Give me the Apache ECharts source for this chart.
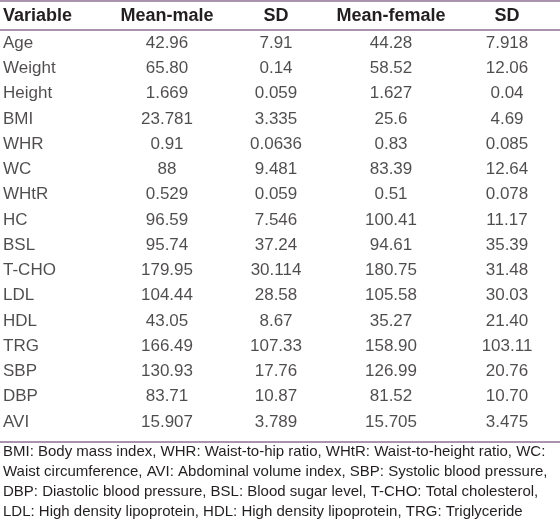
<!DOCTYPE html>
<html><head><meta charset="utf-8">
<script src="https://cdn.jsdelivr.net/npm/echarts@6/dist/echarts.min.js"></script>
<style>html,body{margin:0;padding:0;background:#fff}#c{width:560px;height:525px}</style>
</head><body><div id="c"></div>
<script>
// ---- data ----
const headers = ['Variable', 'Mean-male', 'SD', 'Mean-female', 'SD'];
const variables = ['Age','Weight','Height','BMI','WHR','WC','WHtR','HC','BSL','T-CHO','LDL','HDL','TRG','SBP','DBP','AVI'];
const meanMale   = ['42.96','65.80','1.669','23.781','0.91','88','0.529','96.59','95.74','179.95','104.44','43.05','166.49','130.93','83.71','15.907'];
const sdMale     = ['7.91','0.14','0.059','3.335','0.0636','9.481','0.059','7.546','37.24','30.114','28.58','8.67','107.33','17.76','10.87','3.789'];
const meanFemale = ['44.28','58.52','1.627','25.6','0.83','83.39','0.51','100.41','94.61','180.75','105.58','35.27','158.90','126.99','81.52','15.705'];
const sdFemale   = ['7.918','12.06','0.04','4.69','0.085','12.64','0.078','11.17','35.39','31.48','30.03','21.40','103.11','20.76','10.70','3.475'];
const footnoteLines = [
  'BMI: Body mass index, WHR: Waist-to-hip ratio, WHtR: Waist-to-height ratio, WC:',
  'Waist circumference, AVI: Abdominal volume index, SBP: Systolic blood pressure,',
  'DBP: Diastolic blood pressure, BSL: Blood sugar level, T-CHO: Total cholesterol,',
  'LDL: High density lipoprotein, HDL: High density lipoprotein, TRG: Triglyceride'
];

// ---- layout ----
const colX = [3, 167, 276, 391, 507];
const colAlign = ['left', 'center', 'center', 'center', 'center'];
const textColor = '#231f20';
const ruleColor = '#8e6f94';
const fontFam = '"Liberation Sans", Arial, sans-serif';

const columns = [variables, meanMale, sdMale, meanFemale, sdFemale];

const series = columns.map((col, c) => ({
  type: 'scatter',
  symbolSize: 1,
  itemStyle: { color: 'rgba(0,0,0,0)' },
  encode: { x: 0, y: 1 },
  data: col.map((txt, i) => [colX[c], variables[i], txt]),
  label: {
    show: true,
    position: 'inside',
    align: colAlign[c],
    verticalAlign: 'middle',
    formatter: p => p.value[2],
    color: textColor,
    fontFamily: fontFam,
    fontSize: 17
  },
  labelLayout: { hideOverlap: false },
  emphasis: { disabled: true },
  silent: true
}));

const graphic = [];
[1, 30, 442].forEach(y => graphic.push({
  type: 'line', shape: { x1: 0, y1: y, x2: 560, y2: y },
  style: { stroke: ruleColor, lineWidth: 1.3 }, silent: true
}));
headers.forEach((h, c) => graphic.push({
  type: 'text', x: colX[c], y: 16,
  style: { text: h, fill: textColor, font: 'bold 18px ' + fontFam,
           textAlign: colAlign[c], textVerticalAlign: 'middle' }
}));
graphic.push({
  type: 'text', x: 3, y: 442,
  style: { text: footnoteLines.join('\n'), fill: textColor, font: '15px ' + fontFam,
           lineHeight: 20, textAlign: 'left', textVerticalAlign: 'top' }
});

const chart = echarts.init(document.getElementById('c'), null, { renderer: 'canvas' });
chart.setOption({
  animation: false,
  backgroundColor: '#fff',
  grid: { left: 0, right: 0, top: 30.4, height: 404.3 },
  xAxis: { type: 'value', min: 0, max: 560, show: false },
  yAxis: { type: 'category', data: variables, inverse: true, show: false },
  series: series,
  graphic: graphic
});
</script></body></html>
